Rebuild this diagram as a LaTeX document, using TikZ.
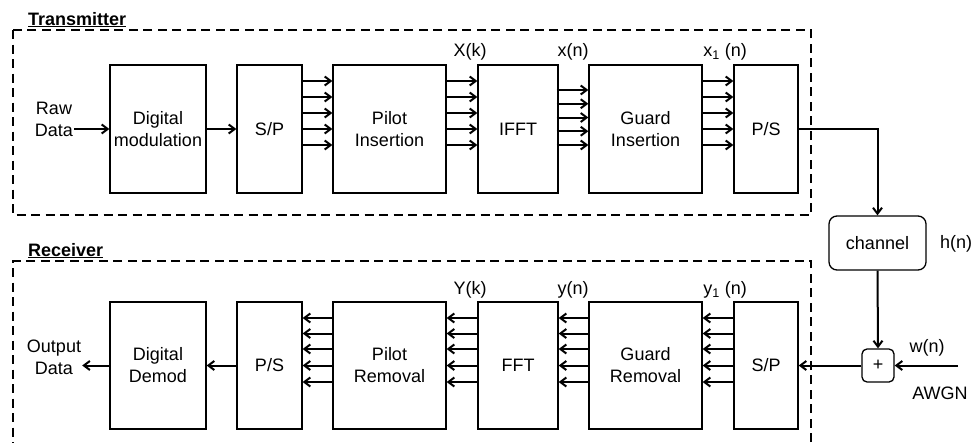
\documentclass[tikz,border=0pt]{standalone}
\usepackage{fontspec}
\setmainfont{Liberation Sans}
\usetikzlibrary{arrows.meta,calc}
\newcommand\myfs{\fontsize{18}{22}\selectfont}
\begin{document}
\begin{tikzpicture}[x=1pt,y=-1pt,
  blk/.style={draw,line width=1.3pt,minimum width=#1,inner sep=0pt,align=center,font=\myfs},
  txb/.style={blk=#1,minimum height=128},
  rxb/.style={blk=#1,minimum height=127},
  arr/.style={line width=2pt,-{Straight Barb[length=6pt,width=9pt]}},
  dbox/.style={draw,line width=2.3pt,dash pattern=on 9pt off 5.5pt},
  lbl/.style={font=\myfs,inner sep=1pt,align=center},
  ttl/.style={font=\myfs\bfseries,anchor=base west,inner sep=0pt},
  rbox/.style={draw,line width=1.3pt,rounded corners=#1,inner sep=0pt,font=\myfs}
]
\useasboundingbox (0,0) rectangle (976,442);
% dashed frames
\draw[dbox] (13,30) rectangle (811,215);
\draw[dbox] (811,500) -- (811,261) -- (13,261) -- (13,500);
\node[ttl] (ttx) at (28,25) {\underline{Transmitter}};
\node[ttl] (trx) at (28,256) {\underline{Receiver}};

% transmitter blocks
\node[txb=96] (dm) at (158,129) {Digital\\modulation};
\node[txb=65] (sp) at (269.5,129) {S/P};
\node[txb=113] (pi) at (389.5,129) {Pilot\\Insertion};
\node[txb=80] (ifft) at (518,129) {IFFT};
\node[txb=113] (gi) at (645.5,129) {Guard\\Insertion};
\node[txb=64] (ps) at (766,129) {P/S};

\node[lbl] (raw) at (54,119) {Raw\\Data};
\draw[arr] (raw.east |- dm.west) -- (dm.west);
\draw[arr] (dm.east) -- (sp.west);
\foreach \d in {-48,-32,-16,0,16}{
  \draw[arr] ($(sp.east)+(0,\d)$) -- ($(pi.west)+(0,\d)$);
  \draw[arr] ($(pi.east)+(0,\d)$) -- ($(ifft.west)+(0,\d)$);
  \draw[arr] ($(gi.east)+(0,\d)$) -- ($(ps.west)+(0,\d)$);
}
\foreach \d in {-39,-25.25,-11.5,2.25,16}{
  \draw[arr] ($(ifft.east)+(-2,\d)$) -- ($(gi.west)+(0,\d)$);
}
\node[lbl] (xk) at (470,52) {X(k)};
\node[lbl] (xn) at (573,52) {x(n)};
\node[lbl] (x1n) at (725,52) {x\textsubscript{1}\hspace{5pt}(n)};

% channel
\node[rbox=8pt,minimum width=97,minimum height=54] (ch) at (877.5,243) {channel};
\node[lbl] (hn) at (956,244) {h(n)};
\draw[arr] (ps.east) -| (ch.north);
\node[rbox=5pt,minimum width=32,minimum height=33] (plus) at (878,365.5) {+};
\draw[arr] (ch.south) -- (plus.north);
\coordinate (win) at (958,365.5);
\draw[arr] (win) -- (plus.east);
\node[lbl] (wn) at (927,348) {w(n)};
\node[lbl] (awgn) at (940,393) {AWGN};

% receiver blocks
\node[rxb=96] (dd) at (158,365.5) {Digital\\Demod};
\node[rxb=65] (rps) at (269.5,365.5) {P/S};
\node[rxb=113] (pr) at (389.5,365.5) {Pilot\\Removal};
\node[rxb=80] (fft) at (518,365.5) {FFT};
\node[rxb=113] (gr) at (645.5,365.5) {Guard\\Removal};
\node[rxb=64] (rsp) at (766,365.5) {S/P};

\draw[arr] (plus.west) -- (rsp.east);
\foreach \d in {-47.5,-32,-16.5,0,16.5}{
  \draw[arr] ($(rsp.west)+(0,\d)$) -- ($(gr.east)+(0,\d)$);
  \draw[arr] ($(gr.west)+(0,\d)$) -- ($(fft.east)+(0,\d)$);
  \draw[arr] ($(fft.west)+(0,\d)$) -- ($(pr.east)+(0,\d)$);
  \draw[arr] ($(pr.west)+(0,\d)$) -- ($(rps.east)+(0,\d)$);
}
\draw[arr] (rps.west) -- (dd.east);
\node[lbl] (out) at (54,357) {Output\\Data};
\draw[arr] (dd.west) -- (out.east |- dd.west);
\node[lbl] (yk) at (470,290) {Y(k)};
\node[lbl] (yn) at (573,290) {y(n)};
\node[lbl] (y1n) at (725,290) {y\textsubscript{1}\hspace{5pt}(n)};
\end{tikzpicture}
\end{document}
